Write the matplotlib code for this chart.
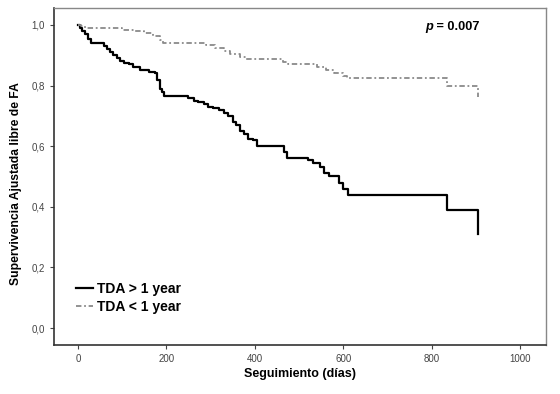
import matplotlib.pyplot as plt

plt.rcParams["font.family"] = ["Liberation Sans", "DejaVu Sans"]

# Kaplan-Meier style step curves
t_long = [0, 5, 10, 15, 22, 30, 60, 65, 72, 80, 88, 95, 105, 115, 125, 140, 160, 175,
          180, 185, 190, 195, 250, 262, 272, 285, 295, 305, 318, 330, 340, 350, 358,
          366, 375, 385, 395, 405, 465, 472, 520, 532, 548, 556, 568, 590, 600, 611,
          835, 905]
s_long = [1.0, 0.99, 0.98, 0.97, 0.955, 0.94, 0.93, 0.92, 0.91, 0.90, 0.89, 0.88, 0.875,
          0.87, 0.86, 0.85, 0.845, 0.84, 0.82, 0.79, 0.78, 0.765, 0.76, 0.75, 0.745, 0.74,
          0.73, 0.725, 0.72, 0.71, 0.70, 0.68, 0.67, 0.65, 0.64, 0.625, 0.62, 0.60, 0.58,
          0.56, 0.555, 0.545, 0.53, 0.51, 0.50, 0.48, 0.46, 0.44, 0.39, 0.31]

t_short = [0, 8, 15, 100, 130, 150, 170, 185, 192, 290, 310, 330, 345, 366, 380, 464,
           475, 540, 560, 580, 600, 609, 835, 905]
s_short = [1.0, 0.995, 0.99, 0.985, 0.98, 0.975, 0.965, 0.95, 0.94, 0.935, 0.925, 0.915,
           0.905, 0.895, 0.887, 0.878, 0.87, 0.86, 0.85, 0.84, 0.83, 0.824, 0.80, 0.762]

xticks = [0, 200, 400, 600, 800, 1000]
yticks = [0.0, 0.2, 0.4, 0.6, 0.8, 1.0]
ytick_labels = ["0,0", "0,2", "0,4", "0,6", "0,8", "1,0"]

fig = plt.figure(figsize=(5.6, 3.94), dpi=100)
ax = fig.add_axes([0.0964, 0.1244, 0.879, 0.8553])

l1, = ax.step(t_long, s_long, where="post", color="black", lw=1.6)
l2, = ax.step(t_short, s_short, where="post", color="#8a8a8a", lw=1.3,
              linestyle=(0, (3, 1.5, 1, 1.5)))

ax.set_xlim(-54, 1059)
ax.set_ylim(-0.056, 1.056)
ax.set_xticks(xticks)
ax.set_yticks(yticks)
ax.set_yticklabels(ytick_labels)
ax.tick_params(labelsize=7, colors="#444444", length=3)

for side in ["left", "bottom"]:
    ax.spines[side].set_color("#333333")
    ax.spines[side].set_linewidth(1.2)
for side in ["top", "right"]:
    ax.spines[side].set_color("#888888")
    ax.spines[side].set_linewidth(1.0)

ax.set_xlabel("Seguimiento (días)", fontsize=9, fontweight="bold", labelpad=3)
ax.set_ylabel("Supervivencia Ajustada libre de FA", fontsize=8.7, fontweight="bold", labelpad=5)
ax.yaxis.set_label_coords(-0.065, 0.48)

tp = ax.text(0.754, 0.944, "p", transform=ax.transAxes, fontsize=9.2,
             fontweight="bold", style="italic", va="center", ha="left")
ax.annotate(" = 0.007", xy=(1, 0.5), xycoords=tp, fontsize=9.2,
            fontweight="bold", va="center", ha="left")

ax.legend([l1, l2], ["TDA > 1 year", "TDA < 1 year"], loc="lower left",
          bbox_to_anchor=(0.02, 0.055), frameon=False,
          handlelength=1.2, handletextpad=0.3, labelspacing=0.3,
          prop={"family": ["Liberation Sans"], "weight": "bold", "size": 10})

fig.savefig("out.png", dpi=100, facecolor="white")
